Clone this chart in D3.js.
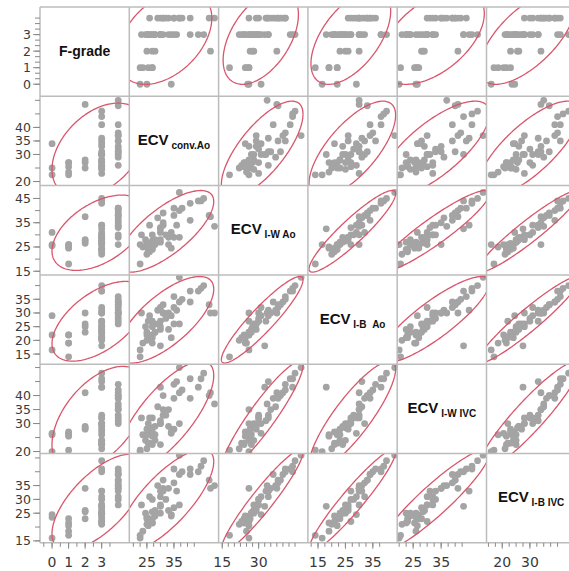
<!DOCTYPE html>
<html><head><meta charset="utf-8">
<script src="https://cdn.jsdelivr.net/npm/d3@7"></script>
<style>body{margin:0;background:#fff} svg{display:block}</style>
</head><body><svg id="c" width="569" height="571"></svg>
<script>
// ---- data (one entry per patient) ----
const fGrade    = [0,0,0, 1,1,1,1,1, 2,2,2,2, 3,3,3,3,3,3,3,3,3,3,3,3,3,3,3,3,3,3,3,3,3,3, 4,4,4,4,4,4,4,4,4,4,4,4,4,4,4, null,null];
const ecvConvAo = [22.5,25,34, 22.5,23.5,25.5,27,27, 25,27,28,48.5, 25,26,25.5,28,30,30,27,33,23,31,30,44,36,46,24.5,25.5,35,34,41,27,30,28, 30,31,29,35,31,37,38,35,50,33,41,48,32,26,37, 37,45];
const ecvIWAo   = [26,25.5,31, 18,25,26,24.5,26, 26.5,27.5,28,37.5, 22,23,24,26,27,28,30,29,30,34,31,44,34,45,28,26,29,24.5,43,24,32.5,27, 33,35,37,38,39,40,41,41,33.5,26,36,38,30,34,29, 47.5,44];
const ecvIBAo   = [16.5,22,29, 14,19,22,19,22, 23,25,26,30, 20,21,22,23,24,25,27,24,30,30,32,38,31,40,25,27,26,21,38,21,18,23, 27,30,31,32,33,34,35,36,30,30,34,33,28,29,26, 43,39];
const ecvIWIVC  = [20,26,26.5, 20.5,26,26.5,25.5,27, 28,28.5,29,41, 21,23,23,24,22.5,30,32,29,32,33,30,43,45,48,24,30,28,27,46,22.5,43,26, 31,35,36,39,40,41,42,44,37,35,39,40,33,32,30, 50,46];
const ecvIBIVC  = [16,23.5,24.5, 17,18.5,20.5,21.5,23, 23,25.5,26,34, 21,22,23,24,25,28,30,26,28,33,31,40,33,44,25,22,27,24,41,21.5,27.5,25, 33,34,35,36,37,39,40,41,35,34,39,37,30,31,28, 46,42];

const labelMain = ["F-grade","ECV","ECV","ECV","ECV","ECV"];
const labelSub  = ["","conv.Ao","I-W Ao","I-B\u00a0\u00a0Ao","I-W IVC","I-B IVC"];
const yTickLabels = [[0,1,2,3],[20,30,35,40],[15,25,35,45],[15,20,25,30,35],[20,30,35,40],[15,25,30,35]];
const xTickLabels = [[0,1,2,3],[25,35],[15,30],[15,25,35],[25,35],[20,30]];

// ---- layout ----
const vars = [fGrade, ecvConvAo, ecvIWAo, ecvIBAo, ecvIWIVC, ecvIBIVC];
const domains = [[-0.73,4.67],[18.5,51.5],[13.5,50.3],[11.3,43.9],[19.3,51.2],[14.3,46.6]];
const yMinor = [[0,4,1/3],[20,50,5],[15,45,5],[15,40,5],[20,50,5],[15,45,5]];
const xMinor = [[-0.5,3.5,0.5],[20,42.5,2.5],[15,45,2.5],[12.5,37.5,2.5],[20,42.5,2.5],[15,40,2.5]];
const L = 40, T = 7, S = 89.3, N = 6;
const svg = d3.select("#c");
const defs = svg.append("defs");

const xs = domains.map((d,j)=>d3.scaleLinear().domain(d).range([L+j*S, L+(j+1)*S]));
const ys = domains.map((d,i)=>d3.scaleLinear().domain(d).range([T+(i+1)*S, T+i*S]));

const C = Math.sqrt(5.991);
function ellipse(xv, yv){
  const p = xv.map((x,k)=>[x,yv[k]]).filter(q=>q[0]!=null&&q[1]!=null);
  const n = p.length;
  const mx = d3.mean(p,q=>q[0]), my = d3.mean(p,q=>q[1]);
  const sxx = d3.sum(p,q=>(q[0]-mx)**2)/(n-1);
  const syy = d3.sum(p,q=>(q[1]-my)**2)/(n-1);
  const sxy = d3.sum(p,q=>(q[0]-mx)*(q[1]-my))/(n-1);
  const a = Math.sqrt(sxx), b = sxy/a, d = Math.sqrt(Math.max(syy-b*b,0));
  return d3.range(0,361,2).map(t=>{const th=t*Math.PI/180, u=C*Math.cos(th), v=C*Math.sin(th);
    return [mx+a*u, my+b*u+d*v];});
}

for(let i=0;i<N;i++){
  for(let j=0;j<N;j++){
    const id = `clip${i}_${j}`;
    defs.append("clipPath").attr("id",id).append("rect")
      .attr("x",L+j*S).attr("y",T+i*S).attr("width",S).attr("height",S);
    const g = svg.append("g").attr("clip-path",`url(#${id})`);
    const cx = L+j*S+S/2, cy = T+i*S+S/2;
    if(i===j){
      const t = g.append("text").attr("x",cx).attr("y",cy+4).attr("text-anchor","middle")
        .attr("font-family","Liberation Sans, Arial, sans-serif").attr("font-weight","bold")
        .attr("fill","#111").style("white-space","pre");
      t.append("tspan").attr("font-size",i===0?14:15).text(labelMain[i]);
      if(labelSub[i]) t.append("tspan").attr("font-size",10).attr("dy",4).text(" "+labelSub[i]);
      continue;
    }
    const xv = vars[j], yv = vars[i];
    const pts = xv.map((x,k)=>[x,yv[k]]).filter(q=>q[0]!=null&&q[1]!=null);
    g.selectAll("circle").data(pts).join("circle")
      .attr("cx",q=>xs[j](q[0])).attr("cy",q=>ys[i](q[1])).attr("r",3.4).attr("fill","#a4a4a4");
    g.append("path").attr("d",d3.line().x(q=>xs[j](q[0])).y(q=>ys[i](q[1]))(ellipse(xv,yv)))
      .attr("fill","none").attr("stroke","#d9566c").attr("stroke-width",1.3);
  }
}

// grid
const grid = svg.append("g").attr("stroke","#bcbcbc").attr("stroke-width",1.5);
for(let k=0;k<=N;k++){
  grid.append("line").attr("x1",L+k*S).attr("x2",L+k*S).attr("y1",T).attr("y2",T+N*S);
  grid.append("line").attr("y1",T+k*S).attr("y2",T+k*S).attr("x1",L).attr("x2",L+N*S);
}

// axes
const ax = svg.append("g").attr("stroke","#8a8a8a").attr("stroke-width",1);
const txt = svg.append("g").attr("font-family","DejaVu Sans, sans-serif").attr("fill","#3a3a3a");
for(let i=0;i<N;i++){
  const [a,b,s] = yMinor[i];
  const tv = d3.range(0, Math.round((b-a)/s)+1).map(k=>a+k*s);
  tv.forEach(v=>{ax.append("line").attr("x1",L-5).attr("x2",L).attr("y1",ys[i](v)).attr("y2",ys[i](v));});
  yTickLabels[i].forEach(v=>{
    ax.append("line").attr("x1",L-7).attr("x2",L).attr("y1",ys[i](v)).attr("y2",ys[i](v));
    txt.append("text").attr("x",L-9).attr("y",ys[i](v)).attr("dy","0.36em").attr("text-anchor","end")
      .attr("font-size",12.5).text(v);
  });
}
const by = T+N*S;
for(let j=0;j<N;j++){
  const [a,b,s] = xMinor[j];
  const tv = d3.range(0, Math.round((b-a)/s)+1).map(k=>a+k*s);
  tv.forEach(v=>{ax.append("line").attr("y1",by).attr("y2",by+4).attr("x1",xs[j](v)).attr("x2",xs[j](v));});
  xTickLabels[j].forEach(v=>{
    ax.append("line").attr("y1",by).attr("y2",by+6).attr("x1",xs[j](v)).attr("x2",xs[j](v));
    txt.append("text").attr("x",xs[j](v)).attr("y",567).attr("text-anchor","middle").attr("font-size",14).text(v);
  });
}
</script></body></html>
